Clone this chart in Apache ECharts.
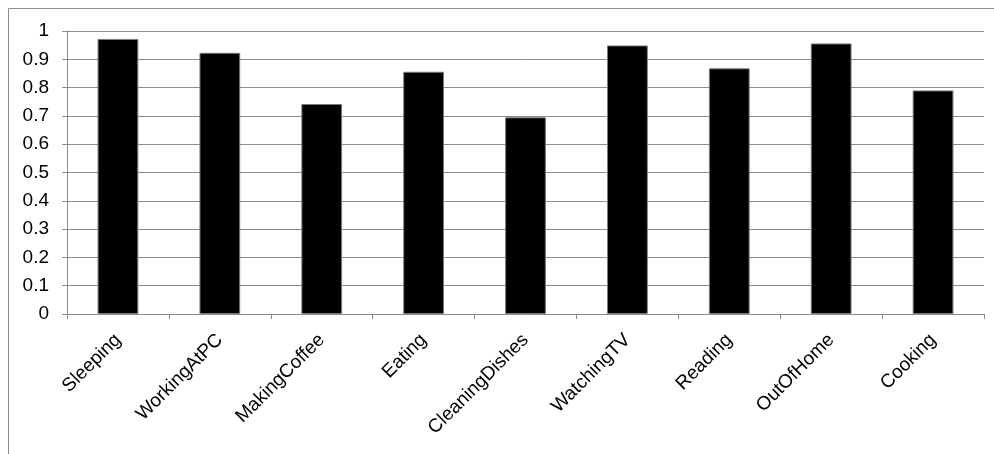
<!DOCTYPE html>
<html><head><meta charset="utf-8">
<script src="https://cdn.jsdelivr.net/npm/echarts@6/dist/echarts.min.js"></script>
<style>html,body{margin:0;padding:0;background:#fff}#c{width:994px;height:454px}</style>
</head><body><div id="c"></div>
<script>
var categories = ["Sleeping","WorkingAtPC","MakingCoffee","Eating","CleaningDishes","WatchingTV","Reading","OutOfHome","Cooking"];
var values = [0.972, 0.923, 0.742, 0.856, 0.695, 0.949, 0.868, 0.956, 0.790];
var yTicks = [0, 0.1, 0.2, 0.3, 0.4, 0.5, 0.6, 0.7, 0.8, 0.9, 1];

var chart = echarts.init(document.getElementById('c'), null, {renderer:'canvas'});
chart.setOption({
  animation: false,
  backgroundColor: '#fff',
  graphic: [{type:'rect', shape:{x:8.5,y:8.5,width:1100,height:600}, style:{fill:null, stroke:'#8c8c8c', lineWidth:1}, silent:true, z:-1}],
  grid: {left: 67, right: 10, top: 31, bottom: 140, containLabel: false},
  xAxis: {
    type: 'category', data: categories,
    axisLine: {lineStyle: {color: '#8c8c8c', width: 1}},
    axisTick: {show: true, length: 5, lineStyle: {color: '#8c8c8c'}},
    axisLabel: {rotate: 45, color: '#000', fontFamily: 'Liberation Sans, Arial', fontSize: 19, margin: 23, interval: 0}
  },
  yAxis: {
    type: 'value', min: yTicks[0], max: yTicks[yTicks.length-1], interval: 0.1,
    axisLine: {show: true, lineStyle: {color: '#8c8c8c', width: 1}},
    axisTick: {show: true, length: 5, lineStyle: {color: '#8c8c8c'}},
    splitLine: {lineStyle: {color: '#8c8c8c', width: 1}},
    axisLabel: {color: '#000', fontFamily: 'Liberation Sans, Arial', fontSize: 19, margin: 18,
      formatter: function(v){ return String(Math.round(v*10)/10); }}
  },
  series: [{
    type: 'bar', data: values, barWidth: '40%',
    itemStyle: {color: '#000', borderColor: '#7a7a7a', borderWidth: 1}
  }]
});
</script></body></html>
